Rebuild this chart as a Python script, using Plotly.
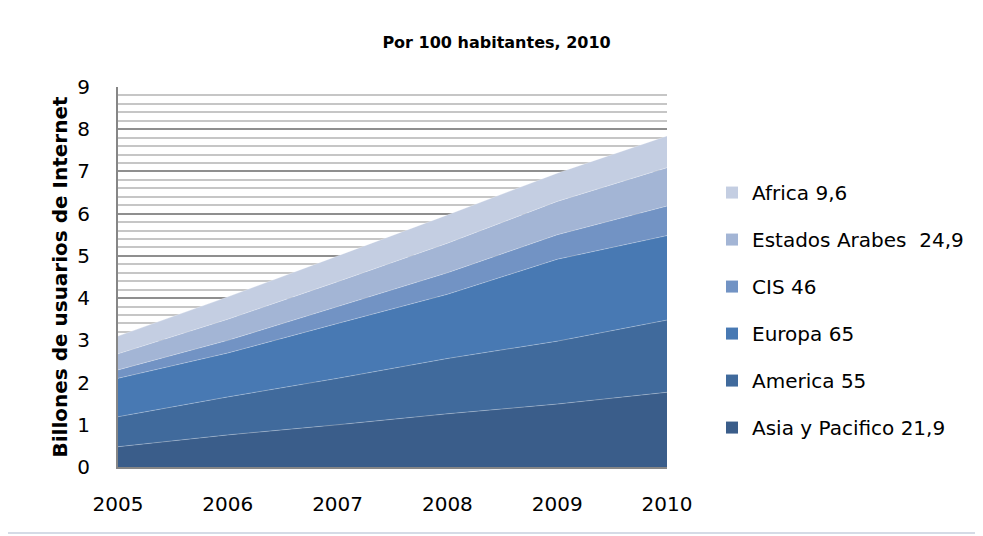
import plotly.graph_objects as go

# Data (billions of Internet users, stacked by region)
YEARS = [2005, 2006, 2007, 2008, 2009, 2010]
ASIA = [0.48, 0.76, 1.00, 1.26, 1.49, 1.77]
AMERICA = [0.71, 0.90, 1.10, 1.31, 1.49, 1.71]
EUROPA = [0.91, 1.04, 1.30, 1.52, 1.94, 2.00]
CIS = [0.20, 0.30, 0.40, 0.51, 0.58, 0.70]
ARABES = [0.38, 0.50, 0.59, 0.70, 0.79, 0.91]
AFRICA = [0.42, 0.53, 0.61, 0.67, 0.67, 0.75]

SERIES = [
    ('Asia y Pacifico 21,9', ASIA, '#3a5d8a'),
    ('America 55', AMERICA, '#406a9c'),
    ('Europa 65', EUROPA, '#4879b3'),
    ('CIS 46', CIS, '#7293c4'),
    ('Estados Arabes  24,9', ARABES, '#a3b5d5'),
    ('Africa 9,6', AFRICA, '#c4cee2'),
]

FONT = 'DejaVu Sans'

fig = go.Figure()

# stacked areas
for name, values, color in SERIES:
    fig.add_trace(go.Scatter(
        x=YEARS, y=values,
        name=name,
        stackgroup='one',
        mode='lines',
        line=dict(width=0.6, color='rgba(255,255,255,0.45)'),
        fillcolor=color,
        showlegend=False,
        hoverinfo='x+y+name',
    ))

# legend entries with square swatches, top to bottom = Africa .. Asia
for rank, (name, values, color) in enumerate(reversed(SERIES)):
    fig.add_trace(go.Scatter(
        x=[None], y=[None],
        name=name,
        mode='markers',
        marker=dict(symbol='square', size=12, color=color),
        legendgroup=str(rank),
        legendrank=rank + 1,
        showlegend=True,
    ))

# the page body adds an 8px offset, margins compensate for it
fig.update_layout(
    width=983, height=536,
    margin=dict(l=110, r=324, t=79, b=77),
    paper_bgcolor='white',
    plot_bgcolor='white',
    title=dict(
        text='<b>Por 100 habitantes, 2010</b>',
        x=0.497, xanchor='center', y=0.935, yanchor='middle',
        font=dict(family=FONT, size=16, color='black'),
    ),
    xaxis=dict(
        range=[2005, 2010],
        tickvals=YEARS,
        ticktext=[str(y) for y in YEARS],
        showgrid=False, zeroline=False,
        showline=True, linecolor='#868686', linewidth=2,
        ticks='outside', ticklen=18, tickcolor='rgba(0,0,0,0)',
        tickfont=dict(family=FONT, size=20, color='black'),
    ),
    yaxis=dict(
        range=[0, 9],
        dtick=1,
        showgrid=True, gridcolor='#8f8f8f', gridwidth=1.5,
        minor=dict(dtick=0.2, showgrid=True, gridcolor='#c6c6c6', gridwidth=1.5),
        zeroline=False,
        showline=True, linecolor='#868686', linewidth=2,
        ticks='outside', ticklen=22, tickcolor='rgba(0,0,0,0)',
        tickfont=dict(family=FONT, size=20, color='black'),
        title=dict(text='<b>Billones de usuarios de Internet</b>',
                   font=dict(family=FONT, size=20, color='black'), standoff=4),
    ),
    legend=dict(
        x=1.082, xanchor='left', y=0.413, yanchor='middle',
        traceorder='grouped',
        tracegroupgap=18,
        font=dict(family=FONT, size=20, color='black'),
        itemwidth=30,
    ),
    showlegend=True,
)

# thin frame line along the bottom of the chart area
fig.add_shape(type='line', xref='paper', yref='paper',
              x0=-0.3, x1=1.7, y0=-0.174, y1=-0.174,
              line=dict(color='#d5dbe6', width=2))

fig.write_html("out.html")
